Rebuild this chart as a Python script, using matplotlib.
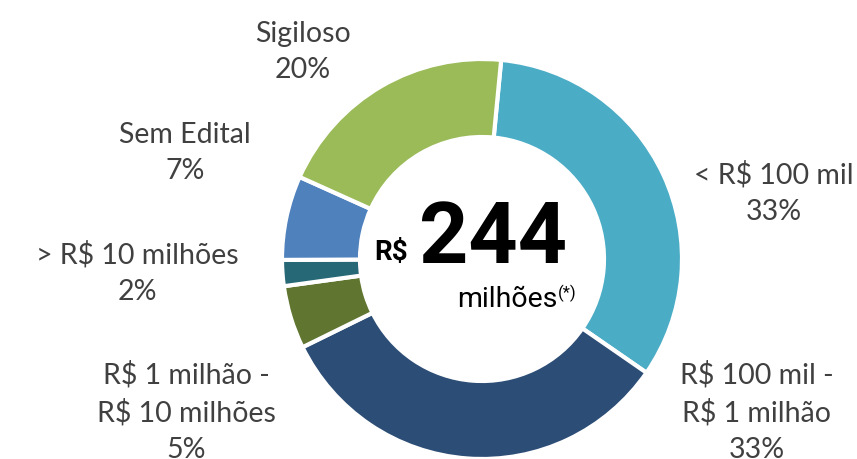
import numpy as np
import matplotlib.pyplot as plt

# ----------------------------------------------------------------------
# data (clockwise from the top)
categories = [
    "< R$ 100 mil",
    "R$ 100 mil -\nR$ 1 milhão",
    "R$ 1 milhão -\nR$ 10 milhões",
    "> R$ 10 milhões",
    "Sem Edital",
    "Sigiloso",
]
shares = [33.1, 33.1, 5.1, 2.1, 6.8, 19.8]  # in %
total_value = "244"  # R$ milhões

colors = ["#4BACC6", "#2C4D75", "#607530", "#276876", "#4F81BD", "#9BBB59"]

# label anchors in units of the outer radius (layout only)
label_xy = [
    (1.46, 0.33),
    (1.375, -0.765),
    (-1.48, -0.765),
    (-1.725, -0.07),
    (-1.485, 0.53),
    (-0.895, 1.035),
]

# ----------------------------------------------------------------------
W, H = 857, 459
cx, cy, R = 482, 259, 200  # pixels, donut centre and outer radius

fig = plt.figure(figsize=(W / 100, H / 100), dpi=100)
ax = fig.add_axes([(cx - R) / W, (H - cy - R) / H, 2 * R / W, 2 * R / H])
ax.set_aspect("equal")
ax.axis("off")

ax.pie(
    shares,
    colors=colors,
    startangle=84.5,
    counterclock=False,
    radius=1,
    wedgeprops=dict(width=0.39, edgecolor="white", linewidth=3),
)
ax.set_xlim(-1, 1)
ax.set_ylim(-1, 1)

label_font = ["Lato", "DejaVu Sans"]
for cat, val, (lx, ly) in zip(categories, shares, label_xy):
    ax.text(
        lx,
        ly,
        "{}\n{}%".format(cat, int(round(val))),
        ha="center",
        va="center",
        fontsize=20.5,
        color="#404040",
        family=label_font,
        linespacing=1.5,
        clip_on=False,
    )

# centre text
center_font = ["Roboto", "DejaVu Sans"]
ax.text(-0.455, -0.005, "R$", ha="center", va="baseline", fontsize=20,
        fontweight="bold", family=center_font)
ax.text(0.055, -0.02, total_value, ha="center", va="baseline", fontsize=62,
        fontweight="bold", family=center_font)
ax.text(0.125, -0.24, "milhões", ha="center", va="baseline", fontsize=20.5,
        family=center_font)
ax.text(0.425, -0.195, "(*)", ha="center", va="baseline", fontsize=12,
        family=center_font)

fig.savefig("out.png", dpi=100)
